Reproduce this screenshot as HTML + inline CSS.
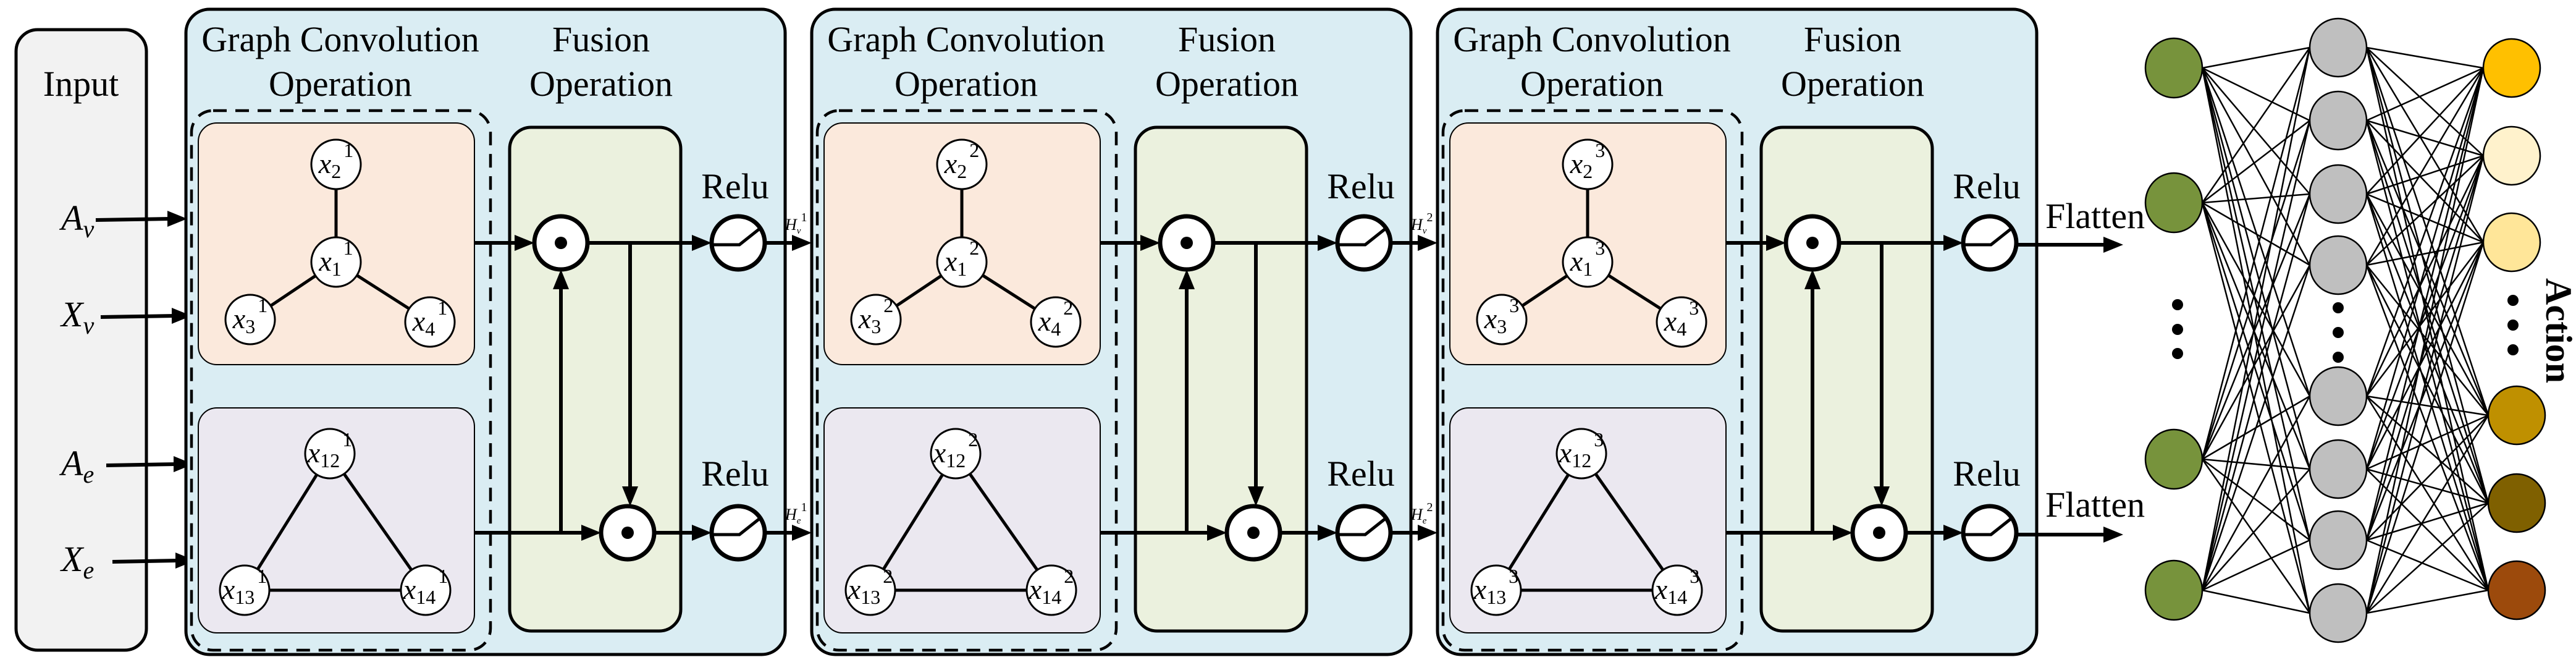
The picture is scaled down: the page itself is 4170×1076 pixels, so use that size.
<!DOCTYPE html>
<html><head><meta charset="utf-8"><style>
html,body{margin:0;padding:0;background:#fff;}
svg{display:block;font-family:"Liberation Serif","Times New Roman",serif;}
svg text{font-family:"Liberation Serif","Times New Roman",serif;fill:#000;}
</style></head><body>
<svg width="4170" height="1076" viewBox="0 0 4170 1076" xmlns="http://www.w3.org/2000/svg" font-family="Liberation Serif, serif">
<defs>
<g id="panelbase">
  <rect x="0" y="15" width="970" height="1044" rx="38" fill="#daedf3" stroke="#000" stroke-width="5"/>
  <text x="250" y="83" font-size="58" text-anchor="middle" font-family="Liberation Serif, serif">Graph Convolution</text>
  <text x="250" y="155" font-size="58" text-anchor="middle" font-family="Liberation Serif, serif">Operation</text>
  <text x="672" y="83" font-size="58" text-anchor="middle" font-family="Liberation Serif, serif">Fusion</text>
  <text x="672" y="155" font-size="58" text-anchor="middle" font-family="Liberation Serif, serif">Operation</text>
  <rect x="20" y="199" width="447" height="391" rx="30" fill="#fbe9dc" stroke="#000" stroke-width="2"/>
  <rect x="20" y="660" width="447" height="364" rx="30" fill="#ebe8f0" stroke="#000" stroke-width="2"/>
  <rect x="9" y="179" width="484" height="873" rx="35" fill="none" stroke="#000" stroke-width="4.5" stroke-dasharray="22 14"/>
  <rect x="524" y="206" width="277" height="815" rx="35" fill="#ebf1de" stroke="#000" stroke-width="5"/>
  <g stroke="#000" stroke-width="5" fill="none">
    <line x1="243" y1="266" x2="243" y2="424"/>
    <line x1="243" y1="424" x2="104" y2="517"/>
    <line x1="243" y1="424" x2="395" y2="521"/>
    <line x1="233" y1="734" x2="95" y2="955"/>
    <line x1="233" y1="734" x2="388" y2="955"/>
    <line x1="95" y1="955" x2="388" y2="955"/>
  </g>
  <g fill="#fff" stroke="#000" stroke-width="3">
    <circle cx="243" cy="266" r="40"/><circle cx="243" cy="424" r="40"/>
    <circle cx="104" cy="517" r="40"/><circle cx="395" cy="521" r="40"/>
    <circle cx="233" cy="734" r="40"/><circle cx="95" cy="955" r="40"/><circle cx="388" cy="955" r="40"/>
  </g>
  <g stroke="#000" stroke-width="6" fill="none">
    <line x1="467" y1="393" x2="536" y2="393"/>
    <line x1="650" y1="393" x2="823" y2="393"/>
    <line x1="719" y1="393" x2="719" y2="791"/>
    <line x1="467" y1="862" x2="644" y2="862"/>
    <line x1="607" y1="862" x2="607" y2="464"/>
    <line x1="758" y1="862" x2="823" y2="862"/>
  </g>
  <g fill="#000">
    <polygon points="564,393 532,380 532,406"/>
    <polygon points="851,393 819,380 819,406"/>
    <polygon points="719,819 706,787 732,787"/>
    <polygon points="672,862 640,849 640,875"/>
    <polygon points="607,436 594,468 620,468"/>
    <polygon points="851,862 819,849 819,875"/>
  </g>
  <g fill="#fff" stroke="#000" stroke-width="7">
    <circle cx="607" cy="393" r="43"/><circle cx="715" cy="862" r="43"/>
    <circle cx="894" cy="393" r="43"/><circle cx="894" cy="862" r="43"/>
  </g>
  <circle cx="607" cy="393" r="10" fill="#000"/><circle cx="715" cy="862" r="10" fill="#000"/>
  <g stroke="#000" stroke-width="5" fill="none">
    <path d="M852 396 H896 L930 369"/><path d="M852 865 H896 L930 838"/>
  </g>
  <text x="889" y="321" font-size="58" text-anchor="middle" font-family="Liberation Serif, serif">Relu</text>
  <text x="889" y="786" font-size="58" text-anchor="middle" font-family="Liberation Serif, serif">Relu</text>
</g>
</defs>

<!-- Input -->
<rect x="26" y="48" width="211" height="1004" rx="35" fill="#f2f2f2" stroke="#000" stroke-width="5"/>
<text x="131" y="155" font-size="58" text-anchor="middle">Input</text>
<g font-size="58" font-style="italic">
<text x="99" y="372">A<tspan font-size="40" dy="12">v</tspan></text>
<text x="99" y="528">X<tspan font-size="40" dy="12">v</tspan></text>
<text x="99" y="769">A<tspan font-size="40" dy="12">e</tspan></text>
<text x="99" y="924">X<tspan font-size="40" dy="12">e</tspan></text>
</g>
<g stroke="#000" stroke-width="6">
<line x1="155" y1="356" x2="275" y2="354"/>
<line x1="163" y1="513" x2="282" y2="511"/>
<line x1="172" y1="753" x2="285" y2="751"/>
<line x1="182" y1="909" x2="288" y2="907"/>
</g>
<g fill="#000">
<polygon points="303,354 271,341 271,367"/>
<polygon points="310,511 278,498 278,524"/>
<polygon points="313,751 281,738 281,764"/>
<polygon points="316,907 284,894 284,920"/>
</g>

<!-- Panels -->
<g transform="translate(301,0)">
<use href="#panelbase"/>
<g font-size="46" font-style="italic" text-anchor="middle">
<text x="243" y="280">x<tspan font-size="32" font-style="normal" dy="8">2</tspan><tspan font-size="32" font-style="normal" dy="-34" dx="4">1</tspan></text>
<text x="243" y="438">x<tspan font-size="32" font-style="normal" dy="8">1</tspan><tspan font-size="32" font-style="normal" dy="-34" dx="4">1</tspan></text>
<text x="104" y="531">x<tspan font-size="32" font-style="normal" dy="8">3</tspan><tspan font-size="32" font-style="normal" dy="-34" dx="4">1</tspan></text>
<text x="395" y="535">x<tspan font-size="32" font-style="normal" dy="8">4</tspan><tspan font-size="32" font-style="normal" dy="-34" dx="4">1</tspan></text>
<text x="233" y="748">x<tspan font-size="32" font-style="normal" dy="8">12</tspan><tspan font-size="32" font-style="normal" dy="-34" dx="4">1</tspan></text>
<text x="95" y="969">x<tspan font-size="32" font-style="normal" dy="8">13</tspan><tspan font-size="32" font-style="normal" dy="-34" dx="4">1</tspan></text>
<text x="388" y="969">x<tspan font-size="32" font-style="normal" dy="8">14</tspan><tspan font-size="32" font-style="normal" dy="-34" dx="4">1</tspan></text>
</g>
<g stroke="#000" stroke-width="6"><line x1="937" y1="393" x2="985" y2="393"/><line x1="937" y1="862" x2="985" y2="862"/></g>
<g fill="#000"><polygon points="1013,393 981,380 981,406"/><polygon points="1013,862 981,849 981,875"/></g>
<g font-size="26" font-style="italic">
<text x="970" y="372">H<tspan font-size="15" dy="6">v</tspan><tspan font-size="20" font-style="normal" dy="-20">1</tspan></text>
<text x="970" y="841">H<tspan font-size="15" dy="6">e</tspan><tspan font-size="20" font-style="normal" dy="-20">1</tspan></text>
</g>
</g>

<g transform="translate(1314,0)">
<use href="#panelbase"/>
<g font-size="46" font-style="italic" text-anchor="middle">
<text x="243" y="280">x<tspan font-size="32" font-style="normal" dy="8">2</tspan><tspan font-size="32" font-style="normal" dy="-34" dx="4">2</tspan></text>
<text x="243" y="438">x<tspan font-size="32" font-style="normal" dy="8">1</tspan><tspan font-size="32" font-style="normal" dy="-34" dx="4">2</tspan></text>
<text x="104" y="531">x<tspan font-size="32" font-style="normal" dy="8">3</tspan><tspan font-size="32" font-style="normal" dy="-34" dx="4">2</tspan></text>
<text x="395" y="535">x<tspan font-size="32" font-style="normal" dy="8">4</tspan><tspan font-size="32" font-style="normal" dy="-34" dx="4">2</tspan></text>
<text x="233" y="748">x<tspan font-size="32" font-style="normal" dy="8">12</tspan><tspan font-size="32" font-style="normal" dy="-34" dx="4">2</tspan></text>
<text x="95" y="969">x<tspan font-size="32" font-style="normal" dy="8">13</tspan><tspan font-size="32" font-style="normal" dy="-34" dx="4">2</tspan></text>
<text x="388" y="969">x<tspan font-size="32" font-style="normal" dy="8">14</tspan><tspan font-size="32" font-style="normal" dy="-34" dx="4">2</tspan></text>
</g>
<g stroke="#000" stroke-width="6"><line x1="937" y1="393" x2="985" y2="393"/><line x1="937" y1="862" x2="985" y2="862"/></g>
<g fill="#000"><polygon points="1013,393 981,380 981,406"/><polygon points="1013,862 981,849 981,875"/></g>
<g font-size="26" font-style="italic">
<text x="970" y="372">H<tspan font-size="15" dy="6">v</tspan><tspan font-size="20" font-style="normal" dy="-20">2</tspan></text>
<text x="970" y="841">H<tspan font-size="15" dy="6">e</tspan><tspan font-size="20" font-style="normal" dy="-20">2</tspan></text>
</g>
</g>

<g transform="translate(2327,0)">
<use href="#panelbase"/>
<g font-size="46" font-style="italic" text-anchor="middle">
<text x="243" y="280">x<tspan font-size="32" font-style="normal" dy="8">2</tspan><tspan font-size="32" font-style="normal" dy="-34" dx="4">3</tspan></text>
<text x="243" y="438">x<tspan font-size="32" font-style="normal" dy="8">1</tspan><tspan font-size="32" font-style="normal" dy="-34" dx="4">3</tspan></text>
<text x="104" y="531">x<tspan font-size="32" font-style="normal" dy="8">3</tspan><tspan font-size="32" font-style="normal" dy="-34" dx="4">3</tspan></text>
<text x="395" y="535">x<tspan font-size="32" font-style="normal" dy="8">4</tspan><tspan font-size="32" font-style="normal" dy="-34" dx="4">3</tspan></text>
<text x="233" y="748">x<tspan font-size="32" font-style="normal" dy="8">12</tspan><tspan font-size="32" font-style="normal" dy="-34" dx="4">3</tspan></text>
<text x="95" y="969">x<tspan font-size="32" font-style="normal" dy="8">13</tspan><tspan font-size="32" font-style="normal" dy="-34" dx="4">3</tspan></text>
<text x="388" y="969">x<tspan font-size="32" font-style="normal" dy="8">14</tspan><tspan font-size="32" font-style="normal" dy="-34" dx="4">3</tspan></text>
</g>
</g>

<!-- Flatten -->
<g stroke="#000" stroke-width="6"><line x1="3264" y1="396" x2="3408" y2="396"/><line x1="3264" y1="865" x2="3408" y2="865"/></g>
<g fill="#000"><polygon points="3437,396 3405,383 3405,409"/><polygon points="3437,865 3405,852 3405,878"/></g>
<text x="3311" y="369" font-size="58">Flatten</text>
<text x="3311" y="836" font-size="58">Flatten</text>

<!-- Network connections -->
<path stroke="#000" stroke-width="2.5" fill="none" d="
M3565 110L3739 77M3565 110L3739 195M3565 110L3739 314M3565 110L3739 429M3565 110L3739 641M3565 110L3739 759M3565 110L3739 874M3565 110L3739 992
M3565 328L3739 77M3565 328L3739 195M3565 328L3739 314M3565 328L3739 429M3565 328L3739 641M3565 328L3739 759M3565 328L3739 874M3565 328L3739 992
M3565 743L3739 77M3565 743L3739 195M3565 743L3739 314M3565 743L3739 429M3565 743L3739 641M3565 743L3739 759M3565 743L3739 874M3565 743L3739 992
M3565 955L3739 77M3565 955L3739 195M3565 955L3739 314M3565 955L3739 429M3565 955L3739 641M3565 955L3739 759M3565 955L3739 874M3565 955L3739 992
M3831 77L4020 110M3831 77L4020 252M3831 77L4020 392M3831 77L4028 672M3831 77L4028 814M3831 77L4028 955
M3831 195L4020 110M3831 195L4020 252M3831 195L4020 392M3831 195L4028 672M3831 195L4028 814M3831 195L4028 955
M3831 314L4020 110M3831 314L4020 252M3831 314L4020 392M3831 314L4028 672M3831 314L4028 814M3831 314L4028 955
M3831 429L4020 110M3831 429L4020 252M3831 429L4020 392M3831 429L4028 672M3831 429L4028 814M3831 429L4028 955
M3831 641L4020 110M3831 641L4020 252M3831 641L4020 392M3831 641L4028 672M3831 641L4028 814M3831 641L4028 955
M3831 759L4020 110M3831 759L4020 252M3831 759L4020 392M3831 759L4028 672M3831 759L4028 814M3831 759L4028 955
M3831 874L4020 110M3831 874L4020 252M3831 874L4020 392M3831 874L4028 672M3831 874L4028 814M3831 874L4028 955
M3831 992L4020 110M3831 992L4020 252M3831 992L4020 392M3831 992L4028 672M3831 992L4028 814M3831 992L4028 955"/>

<g stroke="#000" stroke-width="2.5">
<ellipse cx="3519" cy="110" rx="46" ry="48" fill="#77933c"/>
<ellipse cx="3519" cy="328" rx="46" ry="48" fill="#77933c"/>
<ellipse cx="3519" cy="743" rx="46" ry="48" fill="#77933c"/>
<ellipse cx="3519" cy="955" rx="46" ry="48" fill="#77933c"/>
<ellipse cx="3785" cy="77" rx="46" ry="47" fill="#bfbfbf"/>
<ellipse cx="3785" cy="195" rx="46" ry="47" fill="#bfbfbf"/>
<ellipse cx="3785" cy="314" rx="46" ry="47" fill="#bfbfbf"/>
<ellipse cx="3785" cy="429" rx="46" ry="47" fill="#bfbfbf"/>
<ellipse cx="3785" cy="641" rx="46" ry="47" fill="#bfbfbf"/>
<ellipse cx="3785" cy="759" rx="46" ry="47" fill="#bfbfbf"/>
<ellipse cx="3785" cy="874" rx="46" ry="47" fill="#bfbfbf"/>
<ellipse cx="3785" cy="992" rx="46" ry="47" fill="#bfbfbf"/>
<ellipse cx="4066" cy="110" rx="46" ry="47" fill="#ffc000"/>
<ellipse cx="4066" cy="252" rx="46" ry="47" fill="#fff2cc"/>
<ellipse cx="4066" cy="392" rx="46" ry="47" fill="#ffe699"/>
<ellipse cx="4074" cy="672" rx="46" ry="47" fill="#bf9000"/>
<ellipse cx="4074" cy="814" rx="46" ry="47" fill="#7f6000"/>
<ellipse cx="4074" cy="955" rx="46" ry="47" fill="#9c4a0c"/>
</g>
<g fill="#000">
<circle cx="3525" cy="493" r="9"/><circle cx="3525" cy="533" r="9"/><circle cx="3525" cy="572" r="9"/>
<circle cx="3785" cy="498" r="9"/><circle cx="3785" cy="538" r="9"/><circle cx="3785" cy="578" r="9"/>
<circle cx="4068" cy="486" r="9"/><circle cx="4068" cy="526" r="9"/><circle cx="4068" cy="566" r="9"/>
</g>
<text x="4122" y="535" font-size="60" font-weight="bold" text-anchor="middle" transform="rotate(90 4122 535)">Action</text>
</svg>
</body></html>
